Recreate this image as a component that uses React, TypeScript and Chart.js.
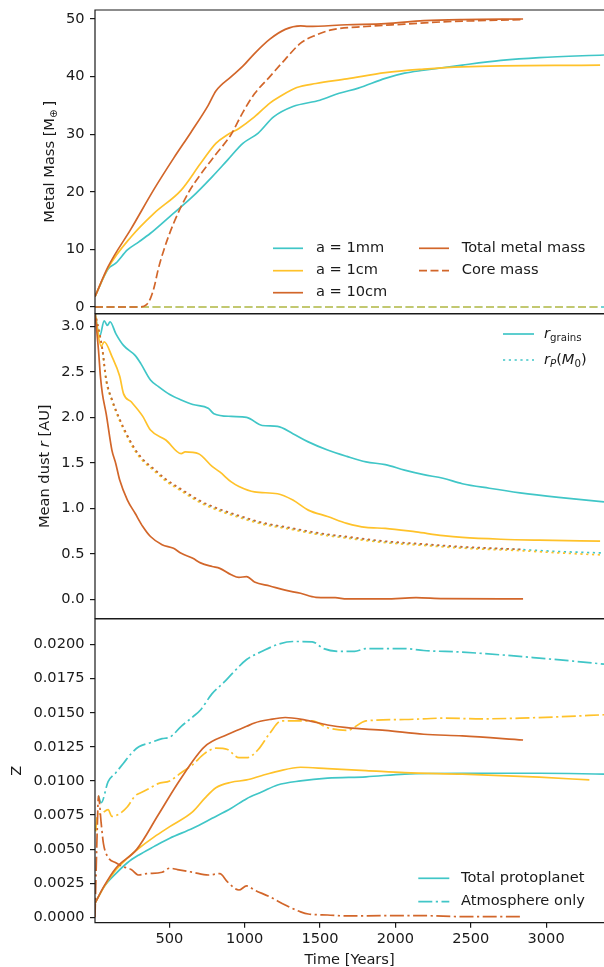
import React, { useEffect, useRef } from "react";
import { Chart, registerables } from "chart.js";

Chart.register(...registerables);

// ---------- data ----------
const X_MIN = 7;
const X_MAX = 3384;
const X_TICKS = [500, 1000, 1500, 2000, 2500, 3000];

// Panel 1: metal mass [M_earth]
const massT_1mm = [7, 94, 145, 222, 298, 375, 503, 656, 784, 886, 988, 1090, 1192, 1320, 1499, 1627, 1754, 1933, 2061, 2188, 2444, 2700, 2955, 3384];
const mass_1mm = [1.8, 6.6, 7.6, 9.9, 11.3, 12.8, 15.7, 19.2, 22.6, 25.5, 28.4, 30.2, 33.0, 34.8, 35.9, 37.1, 38.0, 39.7, 40.6, 41.1, 42.0, 42.8, 43.3, 43.75];
const massT_1cm = [7, 94, 247, 400, 579, 707, 809, 886, 962, 1065, 1167, 1231, 1346, 1473, 1678, 1933, 2188, 2444, 3358];
const mass_1cm = [1.8, 6.8, 12.2, 16.3, 20.3, 24.9, 28.4, 29.9, 31.0, 33.0, 35.4, 36.5, 38.1, 38.8, 39.6, 40.7, 41.3, 41.7, 42.0];
const massT_10cm = [7, 94, 247, 400, 528, 643, 758, 809, 911, 988, 1065, 1167, 1269, 1371, 1422, 1678, 1933, 2188, 2444, 2847];
const mass_10cm = [1.8, 7.0, 13.6, 20.5, 25.8, 30.3, 35.0, 37.5, 40.0, 41.8, 44.0, 46.5, 48.2, 48.8, 48.7, 49.0, 49.2, 49.7, 49.9, 50.0];
const coreT_1mm = [7, 3384];
const core_1mm = [0, 0];
const coreT_1cm = [7, 3358];
const core_1cm = [0, 0];
const coreT_10cm = [7, 298, 349, 375, 400, 426, 465, 528, 630, 707, 809, 911, 988, 1065, 1167, 1269, 1371, 1473, 1575, 1805, 2061, 2316, 2847];
const core_10cm = [0, 0, 0.4, 1.5, 3.5, 6.5, 10, 14.5, 20, 23, 26.5, 30, 33.8, 37, 40, 43, 45.8, 47.2, 48.1, 48.7, 49.1, 49.5, 49.9];

// Panel 2: mean dust radius [AU]
const rT_1mm = [7, 38, 68, 89, 107, 145, 196, 273, 311, 375, 426, 503, 579, 656, 758, 796, 911, 1013, 1116, 1218, 1320, 1422, 1550, 1678, 1805, 1933, 2061, 2188, 2316, 2444, 2623, 2827, 3083, 3384];
const r_1mm = [3.15, 2.89, 3.06, 3.01, 3.05, 2.92, 2.79, 2.68, 2.59, 2.41, 2.34, 2.25, 2.19, 2.14, 2.10, 2.04, 2.01, 2.00, 1.91, 1.90, 1.82, 1.73, 1.64, 1.57, 1.51, 1.48, 1.42, 1.37, 1.33, 1.27, 1.22, 1.17, 1.12, 1.07];
const rT_1cm = [7, 48, 68, 119, 171, 196, 247, 324, 375, 477, 579, 605, 694, 784, 835, 911, 962, 1065, 1218, 1320, 1422, 1550, 1678, 1805, 1933, 2137, 2316, 2444, 2700, 2955, 3358];
const r_1cm = [3.15, 2.78, 2.83, 2.67, 2.45, 2.26, 2.17, 2.01, 1.86, 1.75, 1.60, 1.62, 1.60, 1.46, 1.40, 1.29, 1.24, 1.18, 1.16, 1.09, 0.98, 0.91, 0.835, 0.79, 0.78, 0.74, 0.70, 0.68, 0.66, 0.65, 0.64];
const rT_10cm = [7, 30, 43, 56, 81, 119, 145, 171, 222, 273, 324, 375, 452, 528, 579, 656, 707, 784, 835, 911, 962, 1013, 1065, 1167, 1269, 1371, 1473, 1601, 1678, 1933, 2137, 2316, 2847];
const r_10cm = [3.15, 2.74, 2.45, 2.26, 2.04, 1.64, 1.49, 1.31, 1.09, 0.945, 0.80, 0.69, 0.60, 0.56, 0.505, 0.45, 0.40, 0.36, 0.34, 0.27, 0.24, 0.25, 0.19, 0.146, 0.10, 0.066, 0.022, 0.018, 0.004, 0.004, 0.018, 0.007, 0.004];
const rpT_1mm = [7, 56, 81, 119, 171, 222, 273, 324, 400, 477, 579, 707, 835, 962, 1116, 1295, 1473, 1678, 1933, 2188, 2444, 2847, 3083, 3384];
const rp_1mm = [3.15, 2.74, 2.41, 2.19, 1.97, 1.79, 1.64, 1.53, 1.42, 1.31, 1.20, 1.07, 0.98, 0.91, 0.835, 0.78, 0.725, 0.68, 0.63, 0.60, 0.57, 0.545, 0.525, 0.508];
const rpT_1cm = [7, 56, 81, 119, 171, 222, 273, 324, 400, 477, 579, 707, 835, 962, 1116, 1295, 1473, 1678, 1933, 2188, 2444, 2847, 3083, 3358];
const rp_1cm = [3.15, 2.73, 2.40, 2.18, 1.96, 1.78, 1.63, 1.52, 1.41, 1.30, 1.19, 1.06, 0.97, 0.90, 0.826, 0.772, 0.717, 0.672, 0.622, 0.592, 0.562, 0.533, 0.51, 0.488];
const rpT_10cm = [7, 56, 81, 119, 171, 222, 273, 324, 400, 477, 579, 707, 835, 962, 1116, 1295, 1473, 1678, 1933, 2188, 2444, 2847];
const rp_10cm = [3.15, 2.75, 2.42, 2.20, 1.98, 1.80, 1.65, 1.54, 1.43, 1.32, 1.21, 1.08, 0.99, 0.92, 0.843, 0.788, 0.733, 0.688, 0.638, 0.607, 0.577, 0.548];

// Panel 3: metallicity Z
const zT_1mm = [7, 68, 145, 222, 298, 400, 503, 656, 784, 911, 1013, 1116, 1218, 1371, 1550, 1805, 2061, 2444, 2955, 3384];
const z_1mm = [0.00103, 0.00225, 0.0032, 0.0040, 0.00457, 0.0052, 0.0058, 0.00653, 0.00726, 0.0080, 0.0087, 0.0092, 0.0097, 0.0100, 0.0102, 0.0103, 0.0105, 0.01056, 0.01056, 0.0105];
const zT_1cm = [7, 68, 145, 222, 298, 400, 503, 656, 733, 809, 911, 1013, 1116, 1218, 1371, 1550, 1805, 2061, 2444, 2955, 3287];
const z_1cm = [0.00103, 0.00225, 0.00347, 0.00433, 0.00506, 0.0059, 0.00665, 0.00775, 0.0087, 0.0095, 0.0099, 0.01007, 0.0104, 0.0107, 0.0110, 0.0109, 0.01076, 0.0106, 0.01049, 0.01027, 0.01007];
const zT_10cm = [7, 68, 145, 285, 426, 566, 733, 886, 1013, 1065, 1167, 1269, 1397, 1550, 1678, 1933, 2188, 2444, 2847];
const z_10cm = [0.00103, 0.0023, 0.0036, 0.0050, 0.0075, 0.0100, 0.0125, 0.0134, 0.0140, 0.01425, 0.0145, 0.01465, 0.01447, 0.0141, 0.0139, 0.0137, 0.01342, 0.0133, 0.0130];
const zAtmT_1mm = [30, 48, 94, 145, 196, 247, 298, 375, 452, 503, 579, 656, 707, 784, 860, 937, 1013, 1116, 1218, 1320, 1448, 1524, 1627, 1729, 1805, 2061, 2188, 2444, 2700, 2955, 3210, 3384];
const zAtm_1mm = [0.0089, 0.0084, 0.00995, 0.0106, 0.0113, 0.0120, 0.0125, 0.0128, 0.0131, 0.0132, 0.0140, 0.0147, 0.0152, 0.0164, 0.0172, 0.0181, 0.0189, 0.0195, 0.0200, 0.02022, 0.0202, 0.0197, 0.0195, 0.0195, 0.0197, 0.0197, 0.01956, 0.01944, 0.01924, 0.0190, 0.01875, 0.01856];
const zAtmT_1cm = [12, 22, 48, 94, 119, 171, 222, 273, 324, 375, 426, 503, 579, 656, 733, 809, 886, 962, 1013, 1090, 1167, 1243, 1371, 1448, 1550, 1678, 1805, 2061, 2316, 2572, 2827, 3083, 3384];
const zAtm_1cm = [0.0063, 0.0074, 0.0076, 0.0079, 0.0074, 0.0076, 0.0081, 0.0089, 0.0092, 0.0095, 0.0098, 0.0100, 0.0106, 0.0112, 0.0120, 0.0124, 0.0123, 0.0117, 0.0117, 0.0123, 0.0135, 0.0144, 0.0144, 0.0144, 0.0139, 0.0137, 0.0144, 0.0145, 0.0146, 0.01455, 0.0146, 0.0147, 0.01485];
const zAtmT_10cm = [7, 22, 30, 48, 63, 94, 145, 196, 247, 298, 349, 452, 503, 554, 656, 758, 835, 886, 962, 1013, 1065, 1167, 1269, 1371, 1422, 1550, 1678, 1933, 2188, 2444, 2847];
const zAtm_10cm = [0.0, 0.0065, 0.0089, 0.0069, 0.0054, 0.0044, 0.0040, 0.0037, 0.0035, 0.0031, 0.0032, 0.0033, 0.0036, 0.0035, 0.0033, 0.0031, 0.0032, 0.0026, 0.0020, 0.0023, 0.0020, 0.0015, 0.0009, 0.0004, 0.00024, 0.00017, 0.0001, 0.00012, 0.00012, 0.00005, 0.00005];

const MASS_TICKS = [0, 10, 20, 30, 40, 50];
const R_TICKS = [0, 0.5, 1.0, 1.5, 2.0, 2.5, 3.0];
const Z_TICKS = [0, 0.0025, 0.005, 0.0075, 0.01, 0.0125, 0.015, 0.0175, 0.02];

// ---------- styling ----------
const CYAN = "#40c6c7";
const YELLOW = "#ffc22a";
const YELLOW_SOFT = "rgba(255,194,42,0.78)";
const ORANGE = "#d2662a";
const INK = "#1a1a1a";
const FONT = '"DejaVu Sans", sans-serif';
const SIZE = 14.6;
const LW = 1.7;
const SOLID: number[] = [];
const DASHED = [8, 3.5];
const DOTTED = [2.2, 3.6];
const DASHDOT = [14, 3.5, 2.2, 3.5];
const W = 604;
const AXIS_W = 95;

type Run = { t: string; it?: boolean; sub?: boolean };
type LegendItem = { color: string; dash: number[]; runs: Run[]; x0: number; x1: number; tx: number; y: number };
type Decor = { top: number; yTitle: Run[]; yTitleX: number; legend: LegendItem[]; xTitle?: { runs: Run[]; y: number } };

function runFont(r: Run) {
  const s = r.sub ? SIZE * 0.7 : SIZE;
  return `${r.it ? "italic " : ""}${s}px ${FONT}`;
}

function drawRuns(ctx: CanvasRenderingContext2D, runs: Run[], x: number, y: number, center: boolean) {
  let total = 0;
  for (const r of runs) {
    ctx.font = runFont(r);
    total += ctx.measureText(r.t).width;
  }
  let cx = center ? x - total / 2 : x;
  ctx.textAlign = "left";
  ctx.textBaseline = "middle";
  for (const r of runs) {
    ctx.font = runFont(r);
    ctx.fillText(r.t, cx, y + (r.sub ? SIZE * 0.3 : 0));
    cx += ctx.measureText(r.t).width;
  }
}

function decorPlugin(d: Decor) {
  return {
    id: "decor",
    afterDraw(chart: any) {
      const ctx: CanvasRenderingContext2D = chart.ctx;
      const a = chart.chartArea;
      ctx.save();
      // axes frame
      ctx.strokeStyle = INK;
      ctx.lineWidth = 1.2;
      ctx.setLineDash([]);
      ctx.beginPath();
      ctx.moveTo(W + 2, a.top);
      ctx.lineTo(a.left, a.top);
      ctx.lineTo(a.left, a.bottom);
      ctx.lineTo(W + 2, a.bottom);
      ctx.stroke();
      // legend
      for (const it of d.legend) {
        const y = it.y - d.top;
        ctx.strokeStyle = it.color;
        ctx.lineWidth = LW;
        ctx.setLineDash(it.dash);
        ctx.beginPath();
        ctx.moveTo(it.x0, y);
        ctx.lineTo(it.x1, y);
        ctx.stroke();
        ctx.setLineDash([]);
        ctx.fillStyle = INK;
        drawRuns(ctx, it.runs, it.tx, y, false);
      }
      // axis titles
      ctx.fillStyle = INK;
      if (d.xTitle) drawRuns(ctx, d.xTitle.runs, (a.left + W) / 2, d.xTitle.y - d.top, true);
      ctx.translate(d.yTitleX, (a.top + a.bottom) / 2);
      ctx.rotate(-Math.PI / 2);
      drawRuns(ctx, d.yTitle, 0, 0, true);
      ctx.restore();
    },
  };
}

function series(t: number[], v: number[], color: string, dash: number[]) {
  return {
    data: t.map((x, i) => ({ x, y: v[i] })),
    borderColor: color,
    borderWidth: LW,
    borderDash: dash,
    borderJoinStyle: "round",
    pointRadius: 0,
    fill: false,
    cubicInterpolationMode: "monotone",
  };
}

type PanelSpec = {
  top: number;
  height: number;
  padTop: number;
  padBottom: number;
  showX: boolean;
  yMin: number;
  yMax: number;
  yTicks: number[];
  fmt: (v: number) => string;
  datasets: any[];
  decor: Decor;
};

const tickFont = { family: FONT, size: SIZE };

function buildChart(canvas: HTMLCanvasElement, p: PanelSpec) {
  return new Chart(canvas, {
    type: "line",
    data: { datasets: p.datasets },
    options: {
      animation: false,
      responsive: false,
      events: [],
      layout: { padding: { top: p.padTop, bottom: p.padBottom, left: 0, right: 0 } },
      plugins: { legend: { display: false }, tooltip: { enabled: false } },
      scales: {
        x: {
          type: "linear",
          min: X_MIN,
          max: X_MAX,
          display: p.showX,
          position: "bottom",
          border: { display: false },
          grid: { drawOnChartArea: false, drawTicks: true, tickLength: 5, color: INK, lineWidth: 1.2 },
          ticks: { font: tickFont, color: INK, padding: 3, maxRotation: 0, autoSkip: false, callback: (v: any) => String(v) },
          afterBuildTicks: (s: any) => {
            s.ticks = X_TICKS.map((v) => ({ value: v }));
          },
          afterFit: (s: any) => {
            s.height = p.showX ? 44.3 : 0;
            s.paddingLeft = 0;
            s.paddingRight = 0;
          },
        },
        y: {
          type: "linear",
          min: p.yMin,
          max: p.yMax,
          border: { display: false },
          grid: { drawOnChartArea: false, drawTicks: true, tickLength: 5, color: INK, lineWidth: 1.2 },
          ticks: { font: tickFont, color: INK, padding: 5.5, callback: (v: any) => p.fmt(Number(v)) },
          afterBuildTicks: (s: any) => {
            s.ticks = p.yTicks.map((v) => ({ value: v }));
          },
          afterFit: (s: any) => {
            s.width = AXIS_W;
            s.paddingTop = 0;
            s.paddingBottom = 0;
          },
        },
      },
    } as any,
    plugins: [decorPlugin(p.decor) as any],
  });
}

const PANELS: PanelSpec[] = [
  {
    top: 0,
    height: 317,
    padTop: 10,
    padBottom: 3.5,
    showX: false,
    yMin: -1.13,
    yMax: 51.56,
    yTicks: MASS_TICKS,
    fmt: (v) => String(v),
    datasets: [
      series(coreT_10cm, core_10cm, ORANGE, DASHED),
      series(massT_10cm, mass_10cm, ORANGE, SOLID),
      series(coreT_1cm, core_1cm, YELLOW_SOFT, DASHED),
      series(massT_1cm, mass_1cm, YELLOW, SOLID),
      series(coreT_1mm, core_1mm, CYAN, DASHED),
      series(massT_1mm, mass_1mm, CYAN, SOLID),
    ],
    decor: {
      top: 0,
      yTitle: [{ t: "Metal Mass [M" }, { t: "\u2295", sub: true }, { t: "\u2009]" }],
      yTitleX: 50,
      legend: [
        { color: CYAN, dash: SOLID, runs: [{ t: "a = 1mm" }], x0: 273, x1: 303, tx: 316, y: 248.3 },
        { color: YELLOW, dash: SOLID, runs: [{ t: "a = 1cm" }], x0: 273, x1: 303, tx: 316, y: 270.7 },
        { color: ORANGE, dash: SOLID, runs: [{ t: "a = 10cm" }], x0: 273, x1: 303, tx: 316, y: 292.7 },
        { color: ORANGE, dash: SOLID, runs: [{ t: "Total metal mass" }], x0: 419, x1: 449, tx: 461.7, y: 248.3 },
        { color: ORANGE, dash: DASHED, runs: [{ t: "Core mass" }], x0: 419, x1: 449, tx: 461.7, y: 270.7 },
      ],
    },
  },
  {
    top: 310,
    height: 312,
    padTop: 4,
    padBottom: 3.5,
    showX: false,
    yMin: -0.211,
    yMax: 3.135,
    yTicks: R_TICKS,
    fmt: (v) => v.toFixed(1),
    datasets: [
      series(rpT_10cm, rp_10cm, ORANGE, DOTTED),
      series(rT_10cm, r_10cm, ORANGE, SOLID),
      series(rpT_1cm, rp_1cm, YELLOW, DOTTED),
      series(rT_1cm, r_1cm, YELLOW, SOLID),
      series(rpT_1mm, rp_1mm, CYAN, DOTTED),
      series(rT_1mm, r_1mm, CYAN, SOLID),
    ],
    decor: {
      top: 310,
      yTitle: [{ t: "Mean dust " }, { t: "r", it: true }, { t: " [AU]" }],
      yTitleX: 45.5,
      legend: [
        { color: CYAN, dash: SOLID, runs: [{ t: "r", it: true }, { t: "grains", sub: true }], x0: 503, x1: 534, tx: 544, y: 334 },
        {
          color: CYAN,
          dash: DOTTED,
          runs: [{ t: "r", it: true }, { t: "P", it: true, sub: true }, { t: "(" }, { t: "M", it: true }, { t: "0", sub: true }, { t: ")" }],
          x0: 503,
          x1: 534,
          tx: 544,
          y: 360,
        },
      ],
    },
  },
  {
    top: 615,
    height: 352,
    padTop: 4,
    padBottom: 0,
    showX: true,
    yMin: -0.000396,
    yMax: 0.02187,
    yTicks: Z_TICKS,
    fmt: (v) => v.toFixed(4),
    datasets: [
      series(zAtmT_10cm, zAtm_10cm, ORANGE, DASHDOT),
      series(zT_10cm, z_10cm, ORANGE, SOLID),
      series(zAtmT_1cm, zAtm_1cm, YELLOW, DASHDOT),
      series(zT_1cm, z_1cm, YELLOW, SOLID),
      series(zAtmT_1mm, zAtm_1mm, CYAN, DASHDOT),
      series(zT_1mm, z_1mm, CYAN, SOLID),
    ],
    decor: {
      top: 615,
      yTitle: [{ t: "Z" }],
      yTitleX: 17.3,
      legend: [
        { color: CYAN, dash: SOLID, runs: [{ t: "Total protoplanet" }], x0: 418.3, x1: 449.3, tx: 461, y: 878.3 },
        { color: CYAN, dash: DASHDOT, runs: [{ t: "Atmosphere only" }], x0: 418.3, x1: 449.3, tx: 461, y: 901.7 },
      ],
      xTitle: { runs: [{ t: "Time [Years]" }], y: 960 },
    },
  },
];

export default function App() {
  const refs = [useRef<HTMLCanvasElement>(null), useRef<HTMLCanvasElement>(null), useRef<HTMLCanvasElement>(null)];

  useEffect(() => {
    const charts = PANELS.map((p, i) => buildChart(refs[i].current as HTMLCanvasElement, p));
    return () => charts.forEach((c) => c.destroy());
  }, []);

  return (
    <div style={{ position: "absolute", left: 0, top: 0, width: W, height: 967, overflow: "hidden", background: "#fff" }}>
      {PANELS.map((p, i) => (
        <canvas
          key={i}
          ref={refs[i]}
          width={W}
          height={p.height}
          style={{ position: "absolute", left: 0, top: p.top, width: W, height: p.height, display: "block" }}
        />
      ))}
    </div>
  );
}
